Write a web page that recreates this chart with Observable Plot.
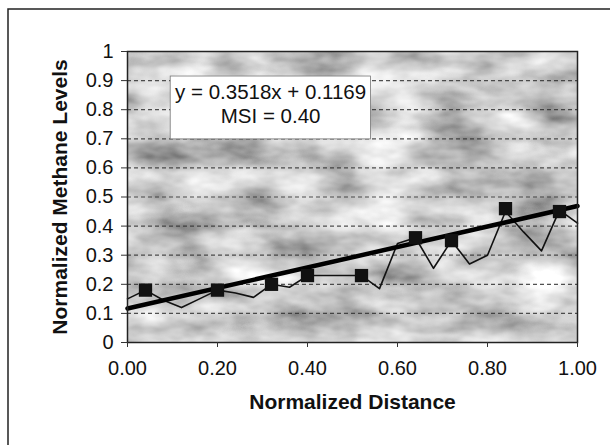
<!DOCTYPE html>
<html>
<head>
<meta charset="utf-8">
<script src="https://cdn.jsdelivr.net/npm/d3@7"></script>
<script src="https://cdn.jsdelivr.net/npm/@observablehq/plot@0.6"></script>
<style>
  html, body { margin: 0; padding: 0; background: #fff; }
  #chart svg { display: block; }
</style>
</head>
<body>
<div id="chart"></div>
<script>
// Observed series (thin line)
const lineX = [0.00,0.04,0.08,0.12,0.16,0.20,0.24,0.28,0.32,0.36,0.40,0.44,0.48,0.52,0.56,0.60,0.64,0.68,0.72,0.76,0.80,0.84,0.88,0.92,0.96,1.00];
const lineY = [0.15,0.18,0.145,0.12,0.15,0.18,0.17,0.155,0.20,0.19,0.23,0.23,0.23,0.23,0.185,0.34,0.36,0.255,0.35,0.27,0.30,0.45,0.38,0.315,0.455,0.41];
// Marker series (squares)
const markX = [0.04,0.20,0.32,0.40,0.52,0.64,0.72,0.84,0.96];
const markY = [0.18,0.18,0.20,0.23,0.23,0.36,0.35,0.46,0.45];
// Trend line end points
const trendX = [0, 1];
const trendY = [0.117, 0.469];
// Ticks
const xTicks = [0, 0.2, 0.4, 0.6, 0.8, 1.0];
const xTickLabels = ["0.00","0.20","0.40","0.60","0.80","1.00"];
const yTicks = [0,0.1,0.2,0.3,0.4,0.5,0.6,0.7,0.8,0.9,1];
const yTickLabels = ["0","0.1","0.2","0.3","0.4","0.5","0.6","0.7","0.8","0.9","1"];
const gridTicks = [0.1,0.2,0.3,0.4,0.5,0.6,0.7,0.8,0.9];
// Texts
const xTitle = "Normalized Distance";
const yTitle = "Normalized Methane Levels";
const annotText = ["y = 0.3518x + 0.1169", "MSI = 0.40"];
const annotBox = [{x1: 0.096, x2: 0.541, y1: 0.698, y2: 0.914}];
const annotPos = [{x: 0.318, y: 0.823}];

const lineData = lineX.map((x, i) => ({x, y: lineY[i]}));
const markData = markX.map((x, i) => ({x, y: markY[i]}));
const trendData = trendX.map((x, i) => ({x, y: trendY[i]}));

const font = "'Liberation Sans', Arial, Helvetica, sans-serif";

const chart = Plot.plot({
  width: 610,
  height: 445,
  marginLeft: 127,
  marginRight: 33,
  marginTop: 51,
  marginBottom: 103,
  style: {fontFamily: font, fontSize: "20px", background: "#fff", color: "#111", overflow: "visible"},
  x: {domain: [0, 1]},
  y: {domain: [0, 1]},
  marks: [
    Plot.frame({fill: "#a0a0a0"}),
    Plot.ruleY(gridTicks, {stroke: "#333", strokeWidth: 1.2, strokeDasharray: "4,3", strokeOpacity: 0.85}),
    Plot.rect(annotBox, {x1: "x1", x2: "x2", y1: "y1", y2: "y2", fill: "#fff", stroke: "#777", strokeWidth: 0.8}),
    Plot.text(annotPos, {x: "x", y: "y", text: () => annotText.join("\n"), fontSize: 20.5, lineHeight: 1.2, fill: "#111"}),
    Plot.line(lineData, {x: "x", y: "y", stroke: "#111", strokeWidth: 1.6}),
    Plot.line(trendData, {x: "x", y: "y", stroke: "#000", strokeWidth: 4.5}),
    Plot.dot(markData, {x: "x", y: "y", symbol: "square", r: 7.5, fill: "#111", stroke: "none"}),
    Plot.frame({stroke: "#222", strokeWidth: 1.5}),
    Plot.axisX({ticks: xTicks, tickFormat: (d, i) => xTickLabels[i], tickSize: 5, tickPadding: 13, fontSize: 20, label: null, stroke: "#333"}),
    Plot.axisY({ticks: yTicks, tickFormat: (d, i) => yTickLabels[i], tickSize: 6, tickPadding: 8, fontSize: 20, label: null, stroke: "#333"}),
    Plot.text([xTitle], {frameAnchor: "bottom", dy: 66, text: d => d, fontWeight: "bold", fontSize: 21, fill: "#111"}),
    Plot.text([yTitle], {frameAnchor: "left", dx: -67, rotate: -90, textAnchor: "middle", text: d => d, fontWeight: "bold", fontSize: 21, fill: "#111"})
  ]
});

// texture for plot area background and outer chart border
const svg = d3.select(chart);
const defs = svg.insert("defs", ":first-child");
const flt = defs.append("filter").attr("id", "tex").attr("x", 0).attr("y", 0).attr("width", 1).attr("height", 1);
flt.append("feTurbulence").attr("type", "fractalNoise").attr("baseFrequency", "0.014 0.03").attr("numOctaves", 4).attr("seed", 23).attr("result", "n");
flt.append("feColorMatrix").attr("in", "n").attr("type", "matrix")
  .attr("values", "1.2 0 0 0 0.0  1.2 0 0 0 0.0  1.2 0 0 0 0.0  0 0 0 0 1");
const fr = chart.querySelector('[aria-label="frame"]');
if (fr) {
  const r = fr.tagName.toLowerCase() === "rect" ? fr : fr.querySelector("rect");
  if (r) r.setAttribute("filter", "url(#tex)");
}
svg.append("rect").attr("x", 8).attr("y", 9).attr("width", 800).attr("height", 800)
  .attr("fill", "none").attr("stroke", "#222").attr("stroke-width", 1.5);

document.getElementById("chart").appendChild(chart);
</script>
</body>
</html>
